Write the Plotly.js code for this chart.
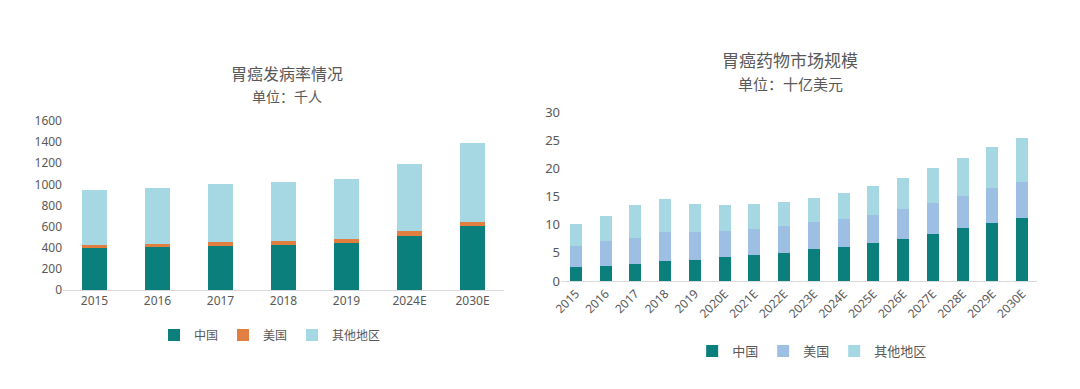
<!DOCTYPE html>
<html>
<head>
<meta charset="utf-8">
<script src="https://cdn.plot.ly/plotly-3.0.1.min.js"></script>
<style>html,body{margin:0;padding:0;background:#fff;}#chart{width:1080px;height:389px;}</style>
</head>
<body>
<div id="chart"></div>
<script>
// Left chart: incidence (thousand people)
const years1 = ['2015', '2016', '2017', '2018', '2019', '2024E', '2030E'];
const china1 = [400, 409, 420, 428, 444, 514, 602];
const usa1 = [22, 25, 38, 38, 38, 41, 42];
const other1 = [523, 533, 541, 552, 564, 634, 751];

// Right chart: drug market (USD billion)
const years2 = ['2015', '2016', '2017', '2018', '2019', '2020E', '2021E', '2022E', '2023E', '2024E', '2025E', '2026E', '2027E', '2028E', '2029E', '2030E'];
const china2 = [2.5, 2.75, 2.95, 3.55, 3.8, 4.2, 4.6, 5.05, 5.6, 6.05, 6.7, 7.5, 8.3, 9.35, 10.35, 11.2];
const usa2 = [3.65, 4.35, 4.75, 5.1, 4.85, 4.75, 4.65, 4.65, 4.85, 4.95, 5.1, 5.35, 5.6, 5.75, 6.1, 6.3];
const other2 = [4.0, 4.45, 5.8, 5.85, 5.0, 4.55, 4.4, 4.4, 4.3, 4.55, 5.15, 5.45, 6.2, 6.7, 7.25, 7.9];

const seriesNames = ['中国', '美国', '其他地区'];

const C_CHINA = '#0b7f7b';
const C_US1 = '#e07f3f';
const C_US2 = '#9dbfe4';
const C_OTHER = '#a6d8e4';
const GRAY = '#595959';
const CJK = '"Noto Sans CJK SC", "Noto Sans", sans-serif';

const traces = [
  {type: 'bar', x: years1, y: china1, name: seriesNames[0], marker: {color: C_CHINA}, xaxis: 'x', yaxis: 'y', legend: 'legend'},
  {type: 'bar', x: years1, y: usa1, name: seriesNames[1], marker: {color: C_US1}, xaxis: 'x', yaxis: 'y', legend: 'legend'},
  {type: 'bar', x: years1, y: other1, name: seriesNames[2], marker: {color: C_OTHER}, xaxis: 'x', yaxis: 'y', legend: 'legend'},
  {type: 'bar', x: years2, y: china2, name: seriesNames[0], marker: {color: C_CHINA}, xaxis: 'x2', yaxis: 'y2', legend: 'legend2'},
  {type: 'bar', x: years2, y: usa2, name: seriesNames[1], marker: {color: C_US2}, xaxis: 'x2', yaxis: 'y2', legend: 'legend2'},
  {type: 'bar', x: years2, y: other2, name: seriesNames[2], marker: {color: C_OTHER}, xaxis: 'x2', yaxis: 'y2', legend: 'legend2'}
];

const tickFont = {family: '"Noto Sans", "Open Sans", sans-serif', size: 12, color: GRAY};

const layout = {
  width: 1080, height: 389,
  margin: {l: 0, r: 0, t: 0, b: 0},
  paper_bgcolor: '#ffffff', plot_bgcolor: '#ffffff',
  barmode: 'stack',
  bargap: 0.59,
  showlegend: true,
  xaxis: {domain: [63/1080, 504/1080], anchor: 'y', type: 'category', showline: true, linecolor: '#d9d9d9', linewidth: 1,
          ticks: '', tickfont: tickFont, showgrid: false, zeroline: false},
  yaxis: {domain: [0.2545, 0.689], anchor: 'x', range: [0, 1600], dtick: 200, showgrid: false, zeroline: false,
          showline: false, ticks: '', tickfont: tickFont},
  xaxis2: {domain: [561/1080, 1037/1080], anchor: 'y2', type: 'category', showline: true, linecolor: '#d9d9d9', linewidth: 1,
           ticks: '', tickfont: tickFont, tickangle: -45, showgrid: false, zeroline: false},
  yaxis2: {domain: [0.2776, 0.7121], anchor: 'x2', range: [0, 30], dtick: 5, showgrid: false, zeroline: false,
           showline: false, ticks: '', tickfont: {family: tickFont.family, size: 13, color: GRAY}},
  legend: {orientation: 'h', x: 0.25, xanchor: 'center', y: 0.139, yanchor: 'middle',
           font: {family: CJK, size: 12, color: GRAY}, itemwidth: 30, bgcolor: 'rgba(0,0,0,0)', traceorder: 'normal'},
  legend2: {orientation: 'h', x: 0.752, xanchor: 'center', y: 0.0977, yanchor: 'middle',
            font: {family: CJK, size: 13, color: GRAY}, itemwidth: 30, bgcolor: 'rgba(0,0,0,0)', traceorder: 'normal'},
  annotations: [
    {text: '胃癌发病率情况', x: 287/1080, y: 1 - 73/389, xref: 'paper', yref: 'paper', showarrow: false,
     xanchor: 'center', yanchor: 'middle', font: {family: CJK, size: 16, color: GRAY}},
    {text: '单位：千人', x: 287/1080, y: 1 - 96/389, xref: 'paper', yref: 'paper', showarrow: false,
     xanchor: 'center', yanchor: 'middle', font: {family: CJK, size: 14, color: GRAY}},
    {text: '胃癌药物市场规模', x: 790/1080, y: 1 - 59/389, xref: 'paper', yref: 'paper', showarrow: false,
     xanchor: 'center', yanchor: 'middle', font: {family: CJK, size: 17, color: GRAY}},
    {text: '单位：十亿美元', x: 790/1080, y: 1 - 83/389, xref: 'paper', yref: 'paper', showarrow: false,
     xanchor: 'center', yanchor: 'middle', font: {family: CJK, size: 15, color: GRAY}}
  ]
};

Plotly.newPlot('chart', traces, layout, {displayModeBar: false, staticPlot: true});
</script>
</body>
</html>
